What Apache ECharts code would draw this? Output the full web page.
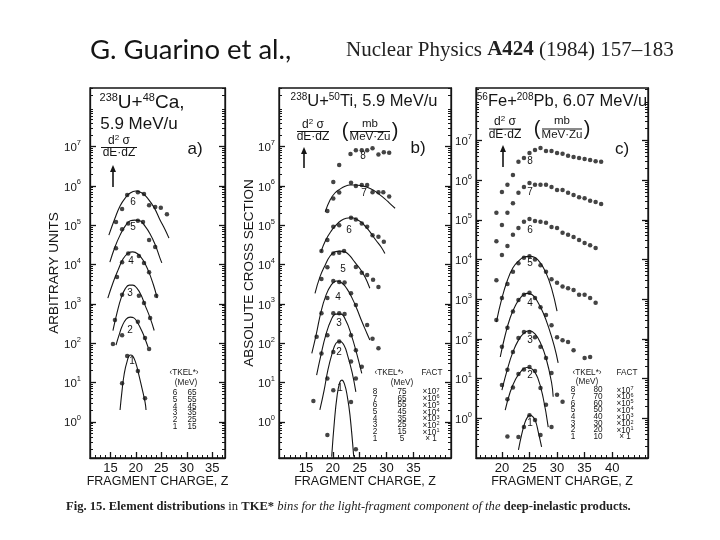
<!DOCTYPE html>
<html><head><meta charset="utf-8">
<script src="https://cdn.jsdelivr.net/npm/echarts@6/dist/echarts.min.js"></script>
<style>html,body{margin:0;padding:0;background:#fff}#c{width:720px;height:540px}</style>
</head><body><div id="c"></div><script>
// ---------------- DATA (Z, cross section) ----------------
// tick labels
const xTicksAB = [15, 20, 25, 30, 35];
const xTicksC = [20, 25, 30, 35, 40];
const yDecades = [0, 1, 2, 3, 4, 5, 6, 7];

// Panel a) 238U + 48Ca, 5.9 MeV/u  (arbitrary units)
const aDots6 = [[16.1,1.2e5],[17.3,2.6e5],[18.3,5.9e5],[20.4,6.9e5],[21.6,6.2e5],[22.6,3.2e5],[23.8,2.9e5],[24.9,2.8e5],[26.1,1.9e5]];
const aFit6 = [[14.7,5.6e4],[15.9,1.5e5],[16.9,3.1e5],[17.9,4.9e5],[18.9,6.6e5],[20.0,7.4e5],[21.2,6.6e5],[22.4,4.7e5],[23.6,2.8e5],[24.7,1.4e5],[25.7,7.9e4],[26.5,4.7e4]];
const aDots5 = [[16.1,2.6e4],[17.3,7.9e4],[18.5,1.1e5],[20.4,1.3e5],[21.4,1.2e5],[22.6,4.2e4],[23.8,2.8e4]];
const aFit5 = [[14.9,1.15e4],[15.9,2.8e4],[16.9,5.6e4],[17.9,9.5e4],[18.9,1.3e5],[19.8,1.35e5],[20.8,1.3e5],[21.8,9.5e4],[22.8,6.0e4],[23.8,3.2e4],[24.7,1.5e4],[25.1,1.1e4]];
const aDots4 = [[16.3,4.8e3],[17.3,1.15e4],[18.5,1.9e4],[20.6,1.65e4],[21.6,1.1e4],[22.6,6.4e3],[24.0,1.6e3]];
const aFit4 = [[14.5,1.4e3],[15.5,3.4e3],[16.5,7.2e3],[17.5,1.4e4],[18.5,1.95e4],[19.4,2.1e4],[20.4,1.85e4],[21.4,1.3e4],[22.4,7.2e3],[23.4,3.2e3],[24.2,1.4e3]];
const aDots3 = [[15.9,390],[17.3,1.7e3],[20.6,1.6e3],[21.6,1.05e3],[22.8,440]];
const aFit3 = [[15.5,210],[16.3,590],[17.1,1.4e3],[17.9,2.4e3],[18.7,3.0e3],[19.4,3.0e3],[20.2,2.5e3],[21.0,1.7e3],[21.8,930],[22.8,440],[23.6,210]];
const aDots2 = [[15.5,95],[17.3,160],[20.4,350],[21.8,135],[22.6,71]];
const aFit2 = [[16.1,89],[16.7,160],[17.3,270],[18.1,410],[18.9,460],[19.6,440],[20.4,320],[21.2,200],[21.8,130],[22.4,79]];
const aDots1 = [[17.3,9.6],[18.3,47],[20.4,19.5],[21.8,4.0]];
const aFit1 = [[16.9,2.0],[17.3,6.4],[17.7,16],[18.3,35],[18.9,50],[19.4,47],[20.0,31],[20.6,15.5],[21.2,7.2],[21.8,3.2],[22.0,2.0]];
const aTkel = [65, 55, 45, 35, 25, 15];

// Panel b) 238U + 50Ti, 5.9 MeV/u  (mb/MeV.Zu, times FACT)
const bDots8 = [[20.1,1.25e6],[21.2,3.4e6],[23.3,6.5e6],[24.3,8.1e6],[25.4,8.1e6],[26.4,8.1e6],[27.4,9.1e6],[28.5,6.3e6],[29.5,7.2e6],[30.5,7.0e6]];
const bDots7 = [[19.0,2.3e5],[20.1,4.8e5],[21.2,6.8e5],[23.4,1.2e6],[24.3,1.0e6],[25.4,1.05e6],[26.4,1.05e6],[27.4,6.9e5],[28.5,6.9e5],[29.4,6.9e5],[30.5,5.4e5]];
const bFit7 = [[18.6,2.2e5],[19.5,4.4e5],[20.4,6.6e5],[21.35,8.3e5],[22.3,9.8e5],[23.2,1.05e6],[24.3,1.05e6],[25.4,1.0e6],[26.4,9.3e5],[27.5,7.9e5],[28.6,6.2e5],[29.7,4.7e5],[30.7,3.5e5],[31.6,2.7e5]];
const bDots6 = [[17.9,2.2e4],[19.0,4.2e4],[20.1,9.1e4],[21.2,1.0e5],[23.4,1.55e5],[24.3,1.4e5],[25.4,1.1e5],[26.4,9.1e4],[27.4,5.6e4],[28.5,5.1e4],[29.5,3.8e4]];
const bFit6 = [[17.8,2.1e4],[18.7,4.2e4],[19.7,7.1e4],[20.6,1.0e5],[21.5,1.3e5],[22.5,1.5e5],[23.4,1.55e5],[24.3,1.45e5],[25.3,1.2e5],[26.2,8.9e4],[27.1,6.3e4],[28.0,4.2e4],[29.0,2.8e4],[29.7,1.9e4]];
const bDots5 = [[17.9,4.3e3],[19.0,8.5e3],[20.1,1.9e4],[21.2,2.0e4],[22.1,2.2e4],[24.3,8.7e3],[25.4,6.2e3],[26.4,5.4e3],[27.5,4.1e3],[28.5,2.7e3]];
const bFit5 = [[16.7,1.85e3],[17.6,4.8e3],[18.6,9.8e3],[19.5,1.65e4],[20.4,2.1e4],[21.35,2.2e4],[22.3,2.1e4],[23.2,1.65e4],[24.1,1.15e4],[25.1,7.7e3],[26.0,4.8e3],[26.9,2.5e3]];
const bDots4 = [[17.0,145],[17.9,580],[19.0,1.4e3],[20.1,3.8e3],[21.2,3.6e3],[22.2,3.5e3],[23.4,1.85e3],[24.3,930],[26.4,290],[27.4,130],[28.5,74]];
const bFit4 = [[16.1,55],[16.9,160],[17.8,620],[18.7,1.6e3],[19.7,3.0e3],[20.7,3.8e3],[21.7,3.4e3],[22.65,2.4e3],[23.6,1.4e3],[24.5,740],[25.4,360],[26.2,200],[26.9,120]];
const bDots3 = [[17.9,55],[19.0,160],[20.1,580],[21.2,580],[22.2,550],[23.4,160],[24.3,66],[25.4,25]];
const bFit3 = [[17.0,15.5],[17.8,50],[18.7,160],[19.7,390],[20.6,550],[21.5,550],[22.5,360],[23.4,170],[24.3,66],[25.4,17]];
const bDots2 = [[16.4,3.4],[19.0,12.6],[20.1,60],[21.2,110],[23.4,34],[24.3,12.6]];
const bFit2 = [[17.6,2.0],[18.4,6.4],[19.1,21],[19.9,56],[20.6,100],[21.35,110],[22.1,89],[22.8,47],[23.6,18],[24.3,5.8]];
const bDots1 = [[19.0,0.46],[20.1,6.4],[23.4,3.2],[24.3,0.2]];
const bFit1 = [[19.8,0.13],[20.3,1.0],[20.8,4.5],[21.3,10],[21.7,11.5],[22.2,9],[22.7,4.5],[23.2,1.5],[23.9,0.13]];
const bTkel = [75, 65, 55, 45, 35, 25, 15, 5];
const bFact = [7, 6, 5, 4, 3, 2, 1, 0];

// Panel c) 56Fe + 208Pb, 6.07 MeV/u  (mb/MeV.Zu, times FACT)
const cDots8 = [[19,1.5e5],[20,5.0e5],[21,7.6e5],[22,1.35e6],[23,2.9e6],[24,3.6e6],[25,4.8e6],[26,5.7e6],[27,6.4e6],[28,5.4e6],[29,5.4e6],[30,4.8e6],[31,4.6e6],[32,4.1e6],[33,3.8e6],[34,3.6e6],[35,3.4e6],[36,3.2e6],[37,3.0e6],[38,2.9e6]];
const cDots7 = [[19,2.9e4],[20,7.4e4],[21,1.5e5],[22,2.6e5],[23,4.8e5],[24,6.7e5],[25,8.5e5],[26,7.6e5],[27,7.6e5],[28,7.6e5],[29,6.7e5],[30,5.6e5],[31,5.6e5],[32,4.8e5],[33,4.2e5],[34,3.7e5],[35,3.5e5],[36,3.0e5],[37,2.8e5],[38,2.5e5]];
const cDots6 = [[19,3.0e3],[20,1.3e4],[21,2.2e4],[22,4.2e4],[23,6.2e4],[24,8.9e4],[25,1.05e5],[26,9.3e4],[27,8.9e4],[28,8.4e4],[29,6.6e4],[30,6.2e4],[31,4.7e4],[32,4.2e4],[33,3.7e4],[34,3.1e4],[35,2.6e4],[36,2.3e4],[37,1.95e4]];
const cDots5 = [[19,300],[20,1.07e3],[21,2.4e3],[22,4.9e3],[23,8.1e3],[24,1.1e4],[25,1.2e4],[26,1.0e4],[27,7.2e3],[28,4.9e3],[29,3.2e3],[30,2.6e3],[31,2.1e3],[32,1.9e3],[33,1.7e3],[34,1.3e3],[35,1.3e3],[36,1.07e3],[37,810]];
const cFit5 = [[19,270],[20,1.07e3],[21,3.0e3],[22,6.2e3],[23,9.1e3],[24,1.15e4],[25,1.2e4],[26,1.12e4],[27,8.1e3],[28,4.6e3],[29,1.9e3],[30,500]];
const cDots4 = [[20,63],[21,190],[22,490],[23,950],[24,1.3e3],[25,1.45e3],[26,1.07e3],[27,630],[28,400],[29,220],[30,110],[31,93],[32,83],[33,52],[35,33],[36,35]];
const cFit4 = [[19.7,35],[20.5,110],[21.5,340],[22.5,710],[23.5,1.15e3],[24.5,1.4e3],[25.5,1.3e3],[26.5,850],[27.5,450],[28.5,190],[29.5,66],[30.2,25]];
const cDots3 = [[20,6.9],[21,16.6],[22,47],[23,105],[24,150],[25,150],[26,110],[27,63],[28,33],[29,13.8],[30,3.9],[31,2.6]];
const cFit3 = [[20,5.1],[21,17.4],[22,47],[23,93],[24,140],[25,160],[26,133],[27,79],[28,33],[29,8.1],[29.3,3.5]];
const cDots2 = [[21,3.0],[22,6.0],[23,13],[24,17],[25,19.5],[26,15.5],[27,5.8],[28,2.2],[29,0.6]];
const cFit2 = [[20.6,1.6],[21.5,4.6],[22.5,9.8],[23.5,15.5],[24.5,19],[25.5,17.4],[26.5,10.4],[27.5,3.2],[28.4,0.6]];
const cDots1 = [[21,0.35],[23,0.34],[24,0.6],[25,1.2],[26,0.91],[27,0.38]];
const cFit1 = [[23,0.16],[23.6,0.4],[24.2,0.8],[24.7,1.1],[25.1,1.2],[25.6,1.1],[26.1,0.85],[26.6,0.45],[27.2,0.19]];
const cTkel = [80, 70, 60, 50, 40, 30, 20, 10];
const cFact = [7, 6, 5, 4, 3, 2, 1, 0];

// ---------------- CHART ----------------
const FONT = '"Liberation Sans", Arial, sans-serif';
const SERIF = '"Liberation Serif", "Times New Roman", serif';
const INK = '#151515';
const chart = echarts.init(document.getElementById('c'), null, {renderer: 'canvas'});

const panels = [
  {left: 90, width: 135, xMin: 11, xMax: 37.5, xTicks: xTicksAB, yMin: -0.92, yMax: 8.49, yName: 'ARBITRARY UNITS', yNameGap: 29, yLabelMargin: 9},
  {left: 279, width: 172, xMin: 10, xMax: 42, xTicks: xTicksAB, yMin: -0.92, yMax: 8.49, yName: 'ABSOLUTE CROSS SECTION', yNameGap: 23, yLabelMargin: 4},
  {left: 476, width: 172, xMin: 15.3, xMax: 46.5, xTicks: xTicksC, yMin: -1.0, yMax: 8.32, yName: '', yNameGap: 0, yLabelMargin: 4}
];
function ints(a, b) { const o = []; for (let v = Math.ceil(a); v <= Math.floor(b); v++) o.push(v); return o; }
function minorLog(a, b) { const o = []; for (let d = Math.floor(a); d <= Math.ceil(b); d++) for (let k = 2; k <= 9; k++) { const v = d + Math.log10(k); if (v > a && v < b) o.push(v); } return o; }
const lineStyle = {color: INK, width: 1.3};

const grid = [], xAxis = [], yAxis = [];
panels.forEach((p, i) => {
  grid.push({left: p.left, top: 88, width: p.width, height: 370, show: true, borderColor: INK, borderWidth: 1.3});
  xAxis.push({gridIndex: i, type: 'value', min: p.xMin, max: p.xMax, position: 'bottom',
    axisLine: {show: true, onZero: false, lineStyle}, splitLine: {show: false},
    axisTick: {show: true, inside: true, length: 6, customValues: p.xTicks, lineStyle},
    axisLabel: {customValues: p.xTicks, color: INK, fontSize: 13, fontFamily: FONT, margin: 4},
    name: 'FRAGMENT CHARGE, Z', nameLocation: 'middle', nameGap: 17, nameMoveOverlap: false,
    nameTextStyle: {color: INK, fontSize: 12.5, fontFamily: FONT}});
  xAxis.push({gridIndex: i, type: 'value', min: p.xMin, max: p.xMax, position: 'bottom',
    axisLine: {show: false, onZero: false}, splitLine: {show: false},
    axisTick: {show: true, inside: true, length: 3, customValues: ints(p.xMin, p.xMax), lineStyle: {color: INK, width: 1}},
    axisLabel: {show: false}});
  yAxis.push({gridIndex: i, type: 'value', min: p.yMin, max: p.yMax, position: 'left',
    axisLine: {show: true, onZero: false, lineStyle}, splitLine: {show: false},
    axisTick: {show: true, inside: true, length: 6, customValues: yDecades, lineStyle},
    axisLabel: {customValues: yDecades, margin: p.yLabelMargin, color: INK,
      formatter: v => '{b|10}{e|' + Math.round(v) + '}',
      rich: {b: {fontSize: 11.5, fontFamily: FONT, color: INK, verticalAlign: 'bottom'},
             e: {fontSize: 7.5, fontFamily: FONT, color: INK, verticalAlign: 'bottom', padding: [0, 0, 7, 0]}}},
    name: p.yName, nameLocation: 'middle', nameGap: p.yNameGap, nameRotate: 90, nameMoveOverlap: false,
    nameTextStyle: {color: INK, fontSize: 13.5, fontFamily: FONT}});
  yAxis.push({gridIndex: i, type: 'value', min: p.yMin, max: p.yMax, position: 'left',
    axisLine: {show: false, onZero: false}, splitLine: {show: false},
    axisTick: {show: true, inside: true, length: 3, customValues: minorLog(p.yMin, p.yMax), lineStyle: {color: INK, width: 1}},
    axisLabel: {show: false}});
  yAxis.push({gridIndex: i, type: 'value', min: p.yMin, max: p.yMax, position: 'right',
    axisLine: {show: true, onZero: false, lineStyle}, splitLine: {show: false},
    axisTick: {show: true, inside: true, length: 6, customValues: yDecades, lineStyle},
    axisLabel: {show: false}});
  yAxis.push({gridIndex: i, type: 'value', min: p.yMin, max: p.yMax, position: 'right',
    axisLine: {show: false, onZero: false}, splitLine: {show: false},
    axisTick: {show: true, inside: true, length: 3, customValues: minorLog(p.yMin, p.yMax), lineStyle: {color: INK, width: 1}},
    axisLabel: {show: false}});
});

const toLog = arr => arr.map(d => [d[0], Math.log10(d[1])]);
const series = [];
function dots(panel, arr, name) {
  series.push({type: 'scatter', name, xAxisIndex: 2 * panel, yAxisIndex: 4 * panel, data: toLog(arr),
    symbol: 'circle', symbolSize: 4.5, itemStyle: {color: INK}, silent: true, z: 3});
}
function fit(panel, arr, name) {
  series.push({type: 'line', name, xAxisIndex: 2 * panel, yAxisIndex: 4 * panel, data: toLog(arr),
    smooth: 0.45, showSymbol: false, lineStyle: {color: INK, width: 1.1}, silent: true, z: 2});
}
dots(0, aDots6, 'a6'); fit(0, aFit6, 'a6 fit');
dots(0, aDots5, 'a5'); fit(0, aFit5, 'a5 fit');
dots(0, aDots4, 'a4'); fit(0, aFit4, 'a4 fit');
dots(0, aDots3, 'a3'); fit(0, aFit3, 'a3 fit');
dots(0, aDots2, 'a2'); fit(0, aFit2, 'a2 fit');
dots(0, aDots1, 'a1'); fit(0, aFit1, 'a1 fit');
dots(1, bDots8, 'b8');
dots(1, bDots7, 'b7'); fit(1, bFit7, 'b7 fit');
dots(1, bDots6, 'b6'); fit(1, bFit6, 'b6 fit');
dots(1, bDots5, 'b5'); fit(1, bFit5, 'b5 fit');
dots(1, bDots4, 'b4'); fit(1, bFit4, 'b4 fit');
dots(1, bDots3, 'b3'); fit(1, bFit3, 'b3 fit');
dots(1, bDots2, 'b2'); fit(1, bFit2, 'b2 fit');
dots(1, bDots1, 'b1'); fit(1, bFit1, 'b1 fit');
dots(2, cDots8, 'c8');
dots(2, cDots7, 'c7');
dots(2, cDots6, 'c6');
dots(2, cDots5, 'c5'); fit(2, cFit5, 'c5 fit');
dots(2, cDots4, 'c4'); fit(2, cFit4, 'c4 fit');
dots(2, cDots3, 'c3'); fit(2, cFit3, 'c3 fit');
dots(2, cDots2, 'c2'); fit(2, cFit2, 'c2 fit');
dots(2, cDots1, 'c1'); fit(2, cFit1, 'c1 fit');

// ---------------- annotations ----------------
const g = [];
function txt(x, y, text, size, opts) {
  opts = opts || {};
  g.push({type: 'text', x, y, rotation: opts.rot || 0, silent: true, z: 10,
    style: Object.assign({text, fill: opts.color || INK, fontSize: size, fontFamily: opts.family || FONT,
      fontWeight: opts.weight || 'normal',
      align: opts.align || 'center', textAlign: opts.align || 'center',
      verticalAlign: 'middle', textVerticalAlign: 'middle'}, opts.rich ? {rich: opts.rich} : {})});
}
function hline(x1, x2, y) { g.push({type: 'line', silent: true, shape: {x1, y1: y, x2, y2: y}, style: {stroke: INK, lineWidth: 1}}); }
function arrow(x, yTop, yBot) {
  g.push({type: 'line', silent: true, shape: {x1: x, y1: yTop + 4, x2: x, y2: yBot}, style: {stroke: INK, lineWidth: 1.6}});
  g.push({type: 'polygon', silent: true, shape: {points: [[x, yTop], [x - 3, yTop + 7], [x + 3, yTop + 7]]}, style: {fill: INK}});
}
const supRich = (big, small) => ({b: {fontSize: big, fontFamily: FONT, fill: INK, color: INK, verticalAlign: 'bottom'},
  s: {fontSize: small, fontFamily: FONT, fill: INK, color: INK, verticalAlign: 'bottom', padding: [0, 0, Math.round(big * 0.45), 0]}});

// header
txt(90, 50, 'G. Guarino et al.,', 27.5, {align: 'left', family: 'Lato, "Open Sans", sans-serif'});
txt(346, 50, '{n|Nuclear Physics }{k|A424}{n| (1984) 157–183}', 21, {align: 'left', family: SERIF,
  rich: {n: {fontSize: 21, fontFamily: SERIF, fill: '#222', color: '#222'}, k: {fontSize: 21, fontFamily: SERIF, fontWeight: 'bold', fill: '#222', color: '#222'}}});

// panel titles
txt(142, 102, '{s|238}{b|U+}{s|48}{b|Ca,}', 19, {rich: supRich(19, 11)});
txt(139, 124, '5.9 MeV/u', 17);
txt(364, 101, '{s|238}{b|U+}{s|50}{b|Ti, 5.9 MeV/u}', 16.5, {rich: supRich(16.5, 10)});
txt(562, 101, '{s|56}{b|Fe+}{s|208}{b|Pb, 6.07 MeV/u}', 16.5, {rich: supRich(16.5, 10)});

// d2sigma / dE dZ
const fracRich = {n: {fontSize: 12, fontFamily: FONT, fill: INK, color: INK, verticalAlign: 'bottom'},
  s: {fontSize: 8, fontFamily: FONT, fill: INK, color: INK, verticalAlign: 'bottom', padding: [0, 0, 5, 0]}};
function frac(cx, yNum, yLine, yDen, w) {
  txt(cx, yNum, '{n|d}{s|2}{n| σ}', 12, {rich: fracRich});
  hline(cx - w / 2, cx + w / 2, yLine);
  txt(cx, yDen, 'dE·dZ', 12);
}
function units(cx, yNum, yLine, yDen) {
  txt(cx, yNum, 'mb', 11.5);
  hline(cx - 20, cx + 20, yLine);
  txt(cx, yDen, 'MeV·Zu', 11.5);
  txt(cx - 25, yLine, '(', 20);
  txt(cx + 25, yLine, ')', 20);
}
frac(119, 140, 147.5, 153, 36);
frac(313, 124, 131.5, 137, 32);
units(370, 124, 131.5, 137);
frac(505, 121, 129, 135, 32);
units(562, 121, 129, 135);
arrow(113, 165, 187);
arrow(304, 147, 168);
arrow(503, 145, 167);
txt(195, 149, 'a)', 17);
txt(418, 148, 'b)', 17);
txt(622, 149, 'c)', 17);

// curve numbers
const aNum = [[6,133,202],[5,133,227],[4,131,261],[3,130,293],[2,130,330],[1,132,361]];
const bNum = [[8,363,156],[7,364,193],[6,349,230],[5,343,269],[4,338,297],[3,339,323],[2,339,352],[1,340,388]];
const cNum = [[8,530,161],[7,530,192],[6,530,230],[5,530,263],[4,530,303],[3,530,340],[2,530,375],[1,530,423]];
[aNum, bNum, cNum].forEach(list => list.forEach(d => txt(d[1], d[2], String(d[0]), 10)));

// legends
const LS = 8.2;
txt(184, 373, '‹TKEL*›', LS);
txt(186, 383, '(MeV)', LS);
aTkel.forEach((v, k) => { const y = 393 + k * 6.7; txt(175, y, String(6 - k), LS); txt(192, y, String(v), LS); });
const factRich = {n: {fontSize: LS, fontFamily: FONT, fill: INK, color: INK, verticalAlign: 'bottom'},
  s: {fontSize: 5.5, fontFamily: FONT, fill: INK, color: INK, verticalAlign: 'bottom', padding: [0, 0, 3, 0]}};
function factText(e) { return e === 0 ? '{n|× 1}' : '{n|×10}{s|' + e + '}'; }
txt(389, 373, '‹TKEL*›', LS); txt(432, 373, 'FACT', LS);
txt(402, 383, '(MeV)', LS);
bTkel.forEach((v, k) => { const y = 391.7 + k * 6.7; txt(375, y, String(8 - k), LS); txt(402, y, String(v), LS); txt(431, y, factText(bFact[k]), LS, {rich: factRich}); });
txt(587, 373, '‹TKEL*›', LS); txt(627, 373, 'FACT', LS);
txt(587, 381.5, '(MeV)', LS);
cTkel.forEach((v, k) => { const y = 390 + k * 6.7; txt(573, y, String(8 - k), LS); txt(598, y, String(v), LS); txt(625, y, factText(cFact[k]), LS, {rich: factRich}); });

// caption
txt(66, 507, '{b|Fig. 15. Element distributions} {n|in} {b|TKE*} {i|bins for the light-fragment component of the} {b|deep-inelastic products.}', 12.6,
  {align: 'left', family: SERIF, rich: {
    b: {fontSize: 12.6, fontFamily: SERIF, fontWeight: 'bold', fill: '#222', color: '#222'},
    n: {fontSize: 12.6, fontFamily: SERIF, fill: '#222', color: '#222'},
    i: {fontSize: 12.6, fontFamily: SERIF, fontStyle: 'italic', fill: '#222', color: '#222'}}});

chart.setOption({
  animation: false,
  backgroundColor: '#ffffff',
  grid, xAxis, yAxis, series,
  graphic: {elements: g}
});
</script></body></html>
